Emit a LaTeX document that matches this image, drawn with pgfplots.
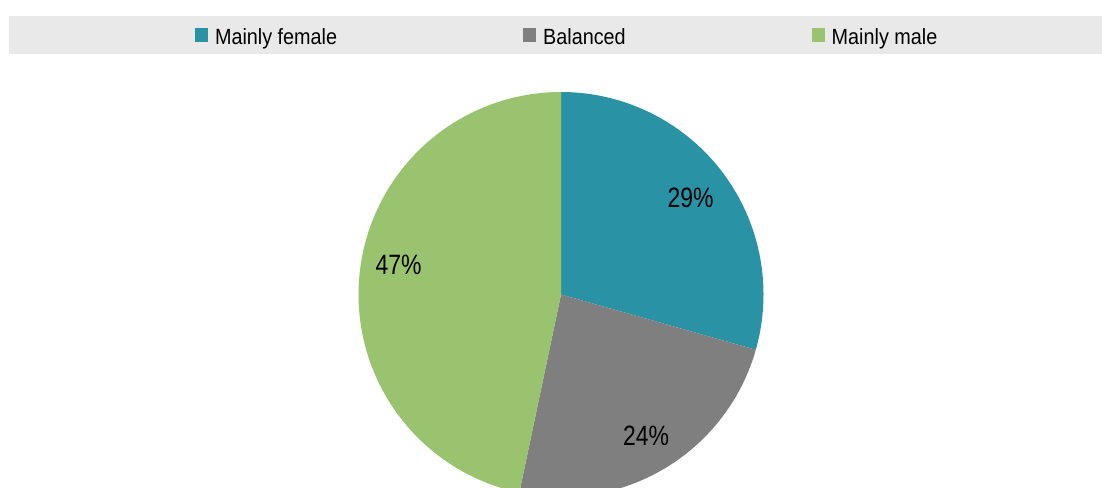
\documentclass[border=0pt]{standalone}
\usepackage{pgfplots}
\pgfplotsset{compat=1.18}
\usepackage{pgfplotstable}
\usepackage{fontspec}
\setmainfont{Liberation Sans}[FakeStretch=0.9]
\newfontfamily\labfont{Liberation Sans}[FakeStretch=0.82]
\definecolor{cfem}{HTML}{2A92A5}
\definecolor{cbal}{HTML}{7F7F7F}
\definecolor{cmal}{HTML}{9AC370}
\definecolor{band}{HTML}{E9E9E9}

\pgfplotstableread{
group value
female 29.4
balanced 23.9
male 46.7
}\pietable

\begin{document}
\begin{tikzpicture}
\pgfplotstablegetelem{0}{value}\of\pietable \let\va\pgfplotsretval
\pgfplotstablegetelem{1}{value}\of\pietable \let\vb\pgfplotsretval
\pgfmathsetmacro\aA{90-3.6*\va}
\pgfmathsetmacro\aB{\aA-3.6*\vb}
\begin{axis}[
 scale only axis, width=826.5pt, height=366pt,
 xmin=0,xmax=1102,ymin=0,ymax=488,
 hide axis, clip=true,
 legend columns=3,
 legend image code/.code={\path[fill=none,draw=none] (0pt,-3.75pt) rectangle (9.75pt,11.25pt);
   \fill[#1] (0pt,-3.75pt) rectangle (9.75pt,6.75pt);},
 legend style={draw=none, fill=none, inner sep=0pt, outer sep=0pt,
   at={(0.17695,0.930)}, anchor=west,
   font=\fontsize{16.5pt}{19pt}\selectfont,
   nodes={inner sep=0pt},
   /tikz/every odd column/.append style={column sep=5.25pt},
   /tikz/every even column/.append style={column sep=139.5pt}},
]
\fill[band] (axis cs:9,472) rectangle (axis cs:1102,434);
\addplot[fill=cfem, draw=none, forget plot, domain=\aA:90, samples=120, variable=\t]
  ({561+202.5*cos(\t)},{193.5+202.5*sin(\t)}) -- (axis cs:561,193.5) -- cycle;
\addplot[fill=cbal, draw=none, forget plot, domain=\aB:\aA, samples=120, variable=\t]
  ({561+202.5*cos(\t)},{193.5+202.5*sin(\t)}) -- (axis cs:561,193.5) -- cycle;
\addplot[fill=cmal, draw=none, forget plot, domain=-270:\aB, samples=160, variable=\t]
  ({561+202.5*cos(\t)},{193.5+202.5*sin(\t)}) -- (axis cs:561,193.5) -- cycle;
\addlegendimage{fill=cfem, draw=none}
\addlegendentry{Mainly female}
\addlegendimage{fill=cbal, draw=none}
\addlegendentry{Balanced}
\addlegendimage{fill=cmal, draw=none}
\addlegendentry{Mainly male}
\node[font=\labfont\fontsize{21pt}{25pt}\selectfont] at (axis cs:690.5,290) {29\%};
\node[font=\labfont\fontsize{21pt}{25pt}\selectfont] at (axis cs:646,52.5) {24\%};
\node[font=\labfont\fontsize{21pt}{25pt}\selectfont] at (axis cs:398.5,223) {47\%};
\end{axis}
\pgfresetboundingbox
\useasboundingbox (current axis.south west) rectangle (current axis.north east);
\end{tikzpicture}
\end{document}
